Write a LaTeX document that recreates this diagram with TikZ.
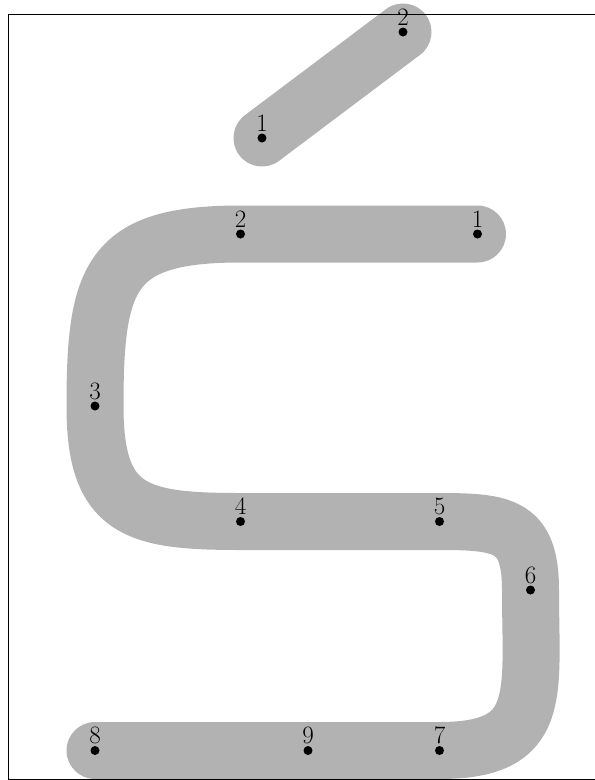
\documentclass[tikz,border=0pt]{standalone}
\begin{document}
\begin{tikzpicture}[x=1pt,y=-1pt,
  stroke/.style={line width=57pt,draw=black!30,line cap=round,line join=round},
  lbl/.style={anchor=base,inner sep=0pt,yshift=7pt,font=\fontsize{25}{30}\selectfont},
  dotmark/.style={fill=black}]
\useasboundingbox (0,0) rectangle (595,780);
% accent
\coordinate (a1) at (262,138);
\coordinate (a2) at (403,32);
% main
\coordinate (m1) at (477.5,234);
\coordinate (m2) at (240.5,234);
\coordinate (m3) at (95,406);
\coordinate (m4) at (240.5,521.5);
\coordinate (m5) at (439.5,521.5);
\coordinate (m6) at (530.5,590);
\coordinate (m7) at (439.5,750.5);
\coordinate (m9) at (308,750.5);
\coordinate (m8) at (95,750.5);
\draw[stroke] (a1) -- (a2);
\draw[stroke] (m1) -- (m2) .. controls (110,234) and (95,276) .. (m3)
  .. controls (95,511) and (135.5,521.5) .. (m4) -- (m5)
  .. controls (504,521.5) and (530.5,525.5) .. (m6)
  .. controls (530.5,695.5) and (544.5,750.5) .. (m7) -- (m9) -- (m8);
\foreach \p/\t in {a1/1,a2/2,m1/1,m2/2,m3/3,m4/4,m5/5,m6/6,m7/7,m8/8,m9/9}{
  \fill[dotmark] (\p) circle (4.5pt);
  \node[lbl] (l\p) at (\p) {\t};
}
\coordinate (f1) at (595,14);
\coordinate (f2) at (8.5,14);
\coordinate (f3) at (8.5,779);
\coordinate (f4) at (595,779);
\draw[line width=0.9pt] (f1) -- (f2) -- (f3) -- (f4);
\end{tikzpicture}
\end{document}
